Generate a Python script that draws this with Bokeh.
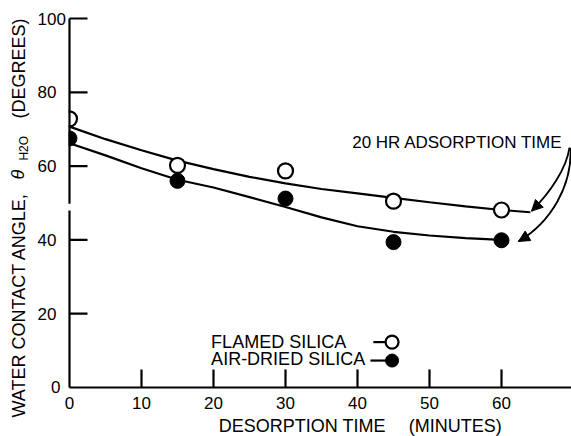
import math

from bokeh.core.properties import value
from bokeh.embed import file_html
from bokeh.models import Arrow, NormalHead, Range1d
from bokeh.plotting import figure
from bokeh.resources import INLINE

# Desorption time (minutes) at which contact angles were measured
times = [0, 15, 30, 45, 60]
flamed_angle = [72.8, 60.2, 58.7, 50.5, 48.1]
airdried_angle = [67.5, 56.0, 51.2, 39.4, 39.9]

# Hand-drawn trend curves through each set of measurements
flamed_curve_t = [0, 5, 10, 15, 20, 25, 30, 35, 40, 45, 50, 55, 60, 64]
flamed_curve_v = [70.7, 67.3, 64.3, 61.5, 59.2, 57.1, 55.3, 53.8, 52.6, 51.4, 50.2, 49.1, 48.1, 47.5]
airdried_curve_t = [0, 5, 10, 15, 20, 25, 30, 35, 40, 45, 50, 55, 60]
airdried_curve_v = [66.2, 62.9, 59.4, 56.3, 54.2, 51.6, 48.9, 46.1, 43.7, 42.2, 41.2, 40.5, 40.0]

x_tick_values = [0, 10, 20, 30, 40, 50, 60]
x_tick_labels = ["0", "10", "20", "30", "40", "50", "60"]
y_tick_values = [0, 20, 40, 60, 80, 100]
y_tick_labels = ["0", "20", "40", "60", "80", "100"]

FONT = value("Liberation Sans")
INK = "black"

p = figure(
    width=571, height=436,
    x_range=Range1d(-9.583, 69.722), y_range=Range1d(-13.28, 104.88),
    x_axis_location=None, y_axis_location=None,
    toolbar_location=None, output_backend="svg", min_border=0,
)
p.outline_line_color = None
p.grid.visible = False
p.background_fill_color = "white"
p.border_fill_color = "white"

# trend curves
p.line(flamed_curve_t, flamed_curve_v, line_color=INK, line_width=2.2)
p.line(airdried_curve_t, airdried_curve_v, line_color=INK, line_width=2.2)

# measured points
p.scatter(times, flamed_angle, marker="circle", size=15, fill_color="white",
          line_color=INK, line_width=2.2)
p.scatter(times, airdried_angle, marker="circle", size=15, fill_color=INK,
          line_color=INK, line_width=1)

# points at t = 0 sit on the axis; hide their left halves
p.quad(left=-1.9, right=-0.12, bottom=63.5, top=76.5, fill_color="white", line_color=None)

# axes: the vertical axis is broken just below 50 degrees
x_end = 69.722
p.segment(x0=[0], y0=[0], x1=[x_end], y1=[0], line_color=INK, line_width=2.2)
p.segment(x0=[0, 0], y0=[0, 49.8], x1=[0, 0], y1=[48.0, 100], line_color=INK, line_width=2.2)

# inward ticks
xt = [v for v in x_tick_values if v > 0]
yt = [v for v in y_tick_values if v > 0]
p.segment(x0=xt, y0=[0] * len(xt), x1=xt, y1=[4.9] * len(xt), line_color=INK, line_width=2.2)
p.segment(x0=[0] * len(yt), y0=yt, x1=[2.5] * len(yt), y1=yt, line_color=INK, line_width=2.2)

TXT = dict(text_font=FONT, text_color=INK, text_baseline="middle")

# tick labels
p.text(x=x_tick_values, y=[-4.1] * len(x_tick_values), text=x_tick_labels,
       text_font_size="17px", text_align="center", **TXT)
ylab_x = [-4.44 if len(s) > 1 else -1.25 for s in y_tick_labels]
ylab_align = ["left" if len(s) > 1 else "right" for s in y_tick_labels]
p.text(x=ylab_x, y=y_tick_values, text=y_tick_labels, text_align=ylab_align,
       text_font_size="17px", **TXT)

# axis titles
p.text(x=[20.74, 47.13], y=[-10.3, -10.3], text=["DESORPTION TIME", "(MINUTES)"],
       text_font_size="18px", text_align="left", **TXT)
p.text(x=[-6.96, -6.96], y=[-8.13, 72.9], text=["WATER CONTACT ANGLE,", "(DEGREES)"],
       angle=math.pi / 2, text_font_size="18px", text_align="left", **TXT)
p.text(x=[-7.1], y=[56.4], text=["θ"], angle=math.pi / 2,
       text_font_size="18px", text_font_style="italic", text_align="left", **TXT)
p.text(x=[-6.25], y=[61.5], text=["H2O"], angle=math.pi / 2,
       text_font_size="12px", text_align="left", **TXT)

# legend
p.text(x=[19.67, 19.67], y=[12.4, 7.8], text=["FLAMED SILICA", "AIR-DRIED SILICA"],
       text_font_size="18px", text_align="left", **TXT)
p.segment(x0=[42.2, 41.8], y0=[12.3, 7.3], x1=[44.8, 44.8], y1=[12.3, 7.3],
          line_color=INK, line_width=2.2)
p.scatter([44.8], [12.3], marker="circle", size=13, fill_color="white",
          line_color=INK, line_width=2.2)
p.scatter([44.8], [7.3], marker="circle", size=13, fill_color=INK,
          line_color=INK, line_width=1)

# callout with curved arrows to the curve ends
p.text(x=[39.26], y=[66.3], text=["20 HR ADSORPTION TIME"],
       text_font_size="17px", text_align="left", **TXT)
arrow_x0 = [69.44, 69.58]
arrow_y0 = [65.0, 65.0]
arrow_cx0 = [69.03, 69.86]
arrow_cy0 = [59.4, 54.7]
arrow_cx1 = [66.81, 66.81]
arrow_cy1 = [52.9, 44.7]
arrow_x1 = [64.17, 62.36]
arrow_y1 = [47.8, 39.6]
p.bezier(x0=arrow_x0, y0=arrow_y0, x1=arrow_x1, y1=arrow_y1,
         cx0=arrow_cx0, cy0=arrow_cy0, cx1=arrow_cx1, cy1=arrow_cy1,
         line_color=INK, line_width=1.8)
for i in range(2):
    p.add_layout(Arrow(
        end=NormalHead(size=11, fill_color=INK, line_color=INK, line_width=1),
        x_start=arrow_cx1[i], y_start=arrow_cy1[i],
        x_end=arrow_x1[i], y_end=arrow_y1[i], line_color=None,
    ))

open("out.html", "w").write(file_html(p, INLINE))
